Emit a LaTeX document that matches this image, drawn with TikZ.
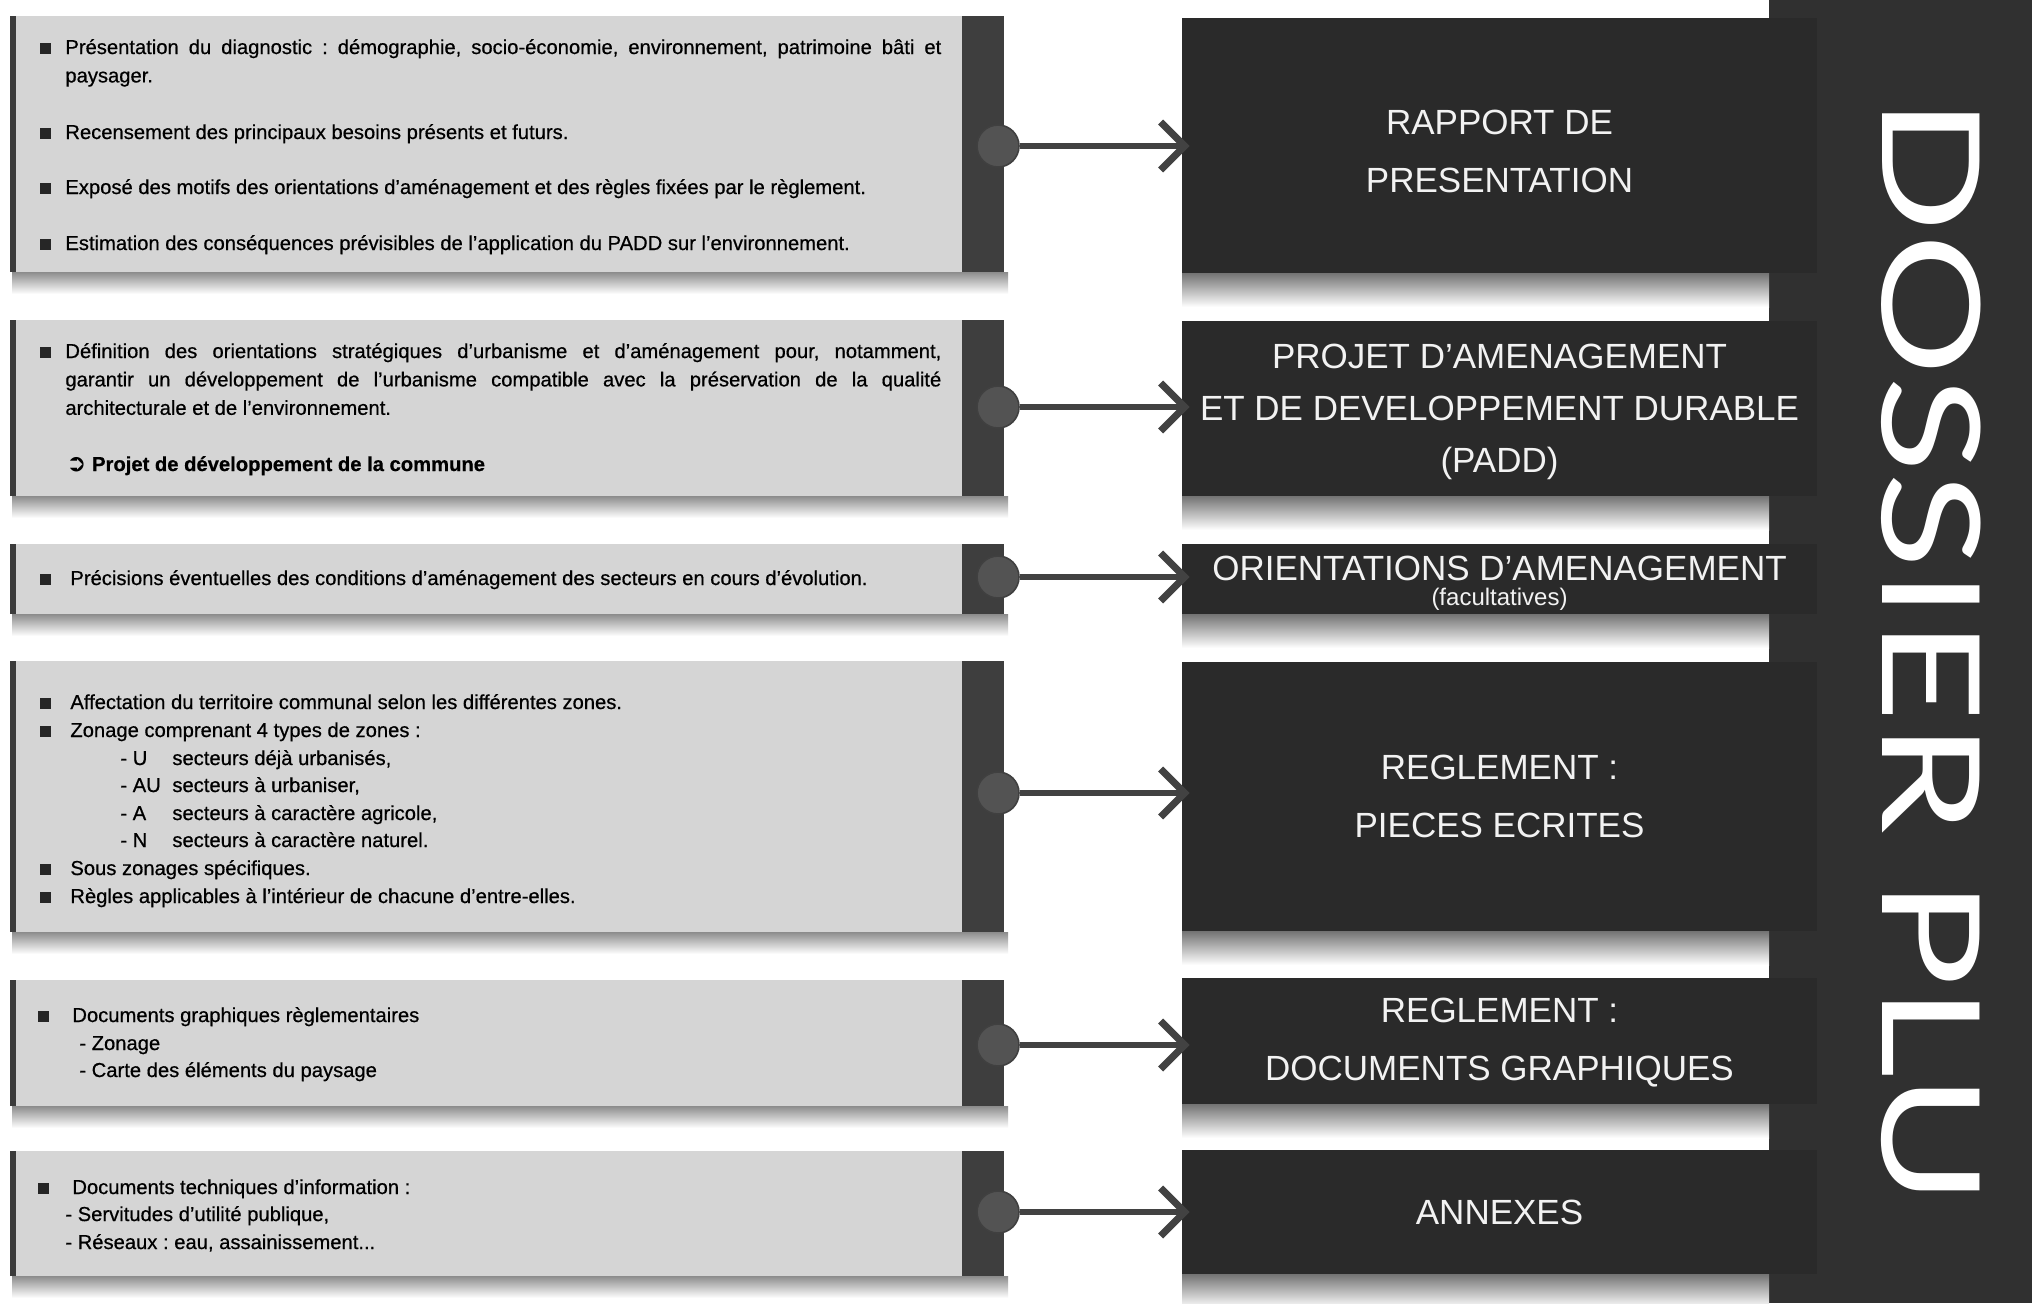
\documentclass[tikz,border=0pt]{standalone}
\usepackage{fontspec}
\setmainfont{Liberation Sans}
\newfontfamily\ltfont[Ligatures=TeX,FakeBold=0.6]{Liberation Sans}
\newfontfamily\symfont{DejaVu Sans}
\newfontfamily\handfont{Lato}
\usetikzlibrary{arrows.meta}
\hyphenpenalty=10000
\exhyphenpenalty=10000
\frenchspacing
\definecolor{panelgray}{HTML}{D5D5D5}
\definecolor{edgegray}{HTML}{3C3C3C}
\definecolor{stripgray}{HTML}{3E3E3E}
\definecolor{knobgray}{HTML}{535353}
\definecolor{arrowgray}{HTML}{424242}
\definecolor{darkbox}{HTML}{2A2A2A}
\definecolor{tallstrip}{HTML}{303030}
\definecolor{boxtext}{HTML}{F2F2F2}
\newcommand\mkpanel[2]{%
  \shade[top color=black!45, bottom color=white] (12,#2) rectangle (1008,#2+22);
  \fill[edgegray] (10,#1) rectangle (16,#2);
  \fill[panelgray] (16,#1) rectangle (962,#2);
  \fill[stripgray] (962,#1) rectangle (1004,#2);
}
\newcommand\mkrshadow[1]{%
  \shade[top color=black!55, bottom color=white] (1182,#1) rectangle (1769,#1+34);
}
\begin{document}
\frenchspacing
\begin{tikzpicture}[x=0.5pt,y=-0.5pt,
  ltext/.style={anchor=base west, inner sep=0pt, text=black,
    font=\ltfont\fontsize{10.1}{14.2}\selectfont},
  jtext/.style={ltext, text width=438pt, align=justify},
  bul/.style={fill=black!85, minimum size=5.5pt, inner sep=0pt},
  rbox/.style={fill=darkbox, minimum width=317.5pt, inner sep=0pt},
  rtext/.style={text=boxtext, inner sep=0pt, align=center, font=\fontsize{17.5}{29}\selectfont},
  knob/.style={circle, fill=knobgray, draw=black!75, line width=0.8pt, minimum size=21pt, inner sep=0pt},
  conn/.style={draw=arrowgray, line width=3.2pt, shorten >=-4pt,
    -{Straight Barb[length=12pt, width=24pt, line width=3.5pt]}}
]
\fill[white] (0,0) rectangle (2032,1303);
\useasboundingbox (0,0) rectangle (2032,1303);

% tall right strip
\fill[tallstrip] (1769,0) rectangle (2032,1303);

% left panels
\mkpanel{16}{272}
\mkpanel{320}{496}
\mkpanel{544}{614}
\mkpanel{661}{932}
\mkpanel{980}{1106}
\mkpanel{1151}{1276}

% right box shadows
\mkrshadow{273}
\mkrshadow{496}
\mkrshadow{614}
\mkrshadow{931}
\mkrshadow{1104}
\mkrshadow{1274}

% right boxes
\node[rbox, minimum height=127.5pt] (r1) at (1499.5,145.5) {};
\node[rbox, minimum height=87.5pt] (r2) at (1499.5,408.5) {};
\node[rbox, minimum height=35pt] (r3) at (1499.5,579) {};
\node[rbox, minimum height=134.5pt] (r4) at (1499.5,796.5) {};
\node[rbox, minimum height=63pt] (r5) at (1499.5,1041) {};
\node[rbox, minimum height=62pt] (r6) at (1499.5,1212) {};

\node[rtext] (r1t) at (1499.5,151) {RAPPORT DE\\PRESENTATION};
\node[rtext, font=\fontsize{17.5}{26}\selectfont] (r2t) at (1499.5,412) {PROJET D'AMENAGEMENT\\ET DE DEVELOPPEMENT DURABLE\\(PADD)};
\node[rtext] (r3t) at (1499.5,568) {ORIENTATIONS D'AMENAGEMENT};
\node[rtext, font=\fontsize{12}{14}\selectfont, anchor=base] (r3s) at (1499.5,605) {(facultatives)};
\node[rtext] (r4t) at (1499.5,796) {REGLEMENT :\\PIECES ECRITES};
\node[rtext] (r5t) at (1499.5,1043) {REGLEMENT :\\DOCUMENTS GRAPHIQUES};
\node[rtext] (r6t) at (1499.5,1212) {ANNEXES};

% knobs
\node[knob] (k1) at (998,146) {};
\node[knob] (k2) at (998,407) {};
\node[knob] (k3) at (998,577) {};
\node[knob] (k4) at (998,793) {};
\node[knob] (k5) at (998,1045) {};
\node[knob] (k6) at (998,1212) {};

% connectors
\draw[conn] (k1.east) -- (k1.east -| r1.west);
\draw[conn] (k2.east) -- (k2.east -| r2.west);
\draw[conn] (k3.east) -- (k3.east -| r3.west);
\draw[conn] (k4.east) -- (k4.east -| r4.west);
\draw[conn] (k5.east) -- (k5.east -| r5.west);
\draw[conn] (k6.east) -- (k6.east -| r6.west);

% title
\begin{scope}[shift={(1931,651)}]
\node[rotate=-90, xscale=1.31, text=white, inner sep=0pt,
  font=\handfont\fontsize{68}{68}\selectfont] (title) at (0,0) {DOSSIER PLU};
\end{scope}

% panel 1 text
\node[bul] (b11) at (45,48) {};
\node[jtext] (t11) at (65,54) {Présentation du diagnostic : démographie, socio-économie, environnement, patrimoine bâti et paysager.};
\node[bul] (b12) at (45,133) {};
\node[ltext] (t12) at (65,139) {Recensement des principaux besoins présents et futurs.};
\node[bul] (b13) at (45,188) {};
\node[ltext] (t13) at (65,194) {Exposé des motifs des orientations d'aménagement et des règles fixées par le règlement.};
\node[bul] (b14) at (45,244) {};
\node[ltext] (t14) at (65,250) {Estimation des conséquences prévisibles de l'application du PADD sur l'environnement.};

% panel 2 text
\node[bul] (b21) at (45,352) {};
\node[jtext] (t21) at (65,358) {Définition des orientations stratégiques d'urbanisme et d'aménagement pour, notamment,\linebreak garantir un développement de l'urbanisme compatible avec la préservation de la qualité\linebreak architecturale et de l'environnement.};
\node[ltext, font=\ltfont\fontsize{10.1}{14.2}\selectfont\bfseries] (t22) at (66,471) {{\symfont\fontsize{12}{14}\selectfont ➲} Projet de développement de la commune};

% panel 3 text
\node[bul] (b31) at (45,579) {};
\node[ltext] (t31) at (70,585) {Précisions éventuelles des conditions d'aménagement des secteurs en cours d'évolution.};

% panel 4 text
\node[bul] (b41) at (45,703) {};
\node[ltext] (t41) at (70,709) {Affectation du territoire communal selon les différentes zones.};
\node[bul] (b42) at (45,731) {};
\node[ltext] (t42) at (70,737) {Zonage comprenant 4 types de zones :};
\node[ltext] (z1) at (120,765) {- U};
\node[ltext] (z1t) at (172,765) {secteurs déjà urbanisés,};
\node[ltext] (z2) at (120,792) {- AU};
\node[ltext] (z2t) at (172,792) {secteurs à urbaniser,};
\node[ltext] (z3) at (120,820) {- A};
\node[ltext] (z3t) at (172,820) {secteurs à caractère agricole,};
\node[ltext] (z4) at (120,847) {- N};
\node[ltext] (z4t) at (172,847) {secteurs à caractère naturel.};
\node[bul] (b43) at (45,869) {};
\node[ltext] (t43) at (70,875) {Sous zonages spécifiques.};
\node[bul] (b44) at (45,897) {};
\node[ltext] (t44) at (70,903) {Règles applicables à l'intérieur de chacune d'entre-elles.};

% panel 5 text
\node[bul] (b51) at (43,1016) {};
\node[ltext] (t51) at (72,1022) {Documents graphiques règlementaires};
\node[ltext] (t52) at (79,1050) {- Zonage};
\node[ltext] (t53) at (79,1077) {- Carte des éléments du paysage};

% panel 6 text
\node[bul] (b61) at (43,1188) {};
\node[ltext] (t61) at (72,1194) {Documents techniques d'information :};
\node[ltext] (t62) at (65,1221) {- Servitudes d'utilité publique,};
\node[ltext] (t63) at (65,1249) {- Réseaux : eau, assainissement...};
\end{tikzpicture}
\end{document}
